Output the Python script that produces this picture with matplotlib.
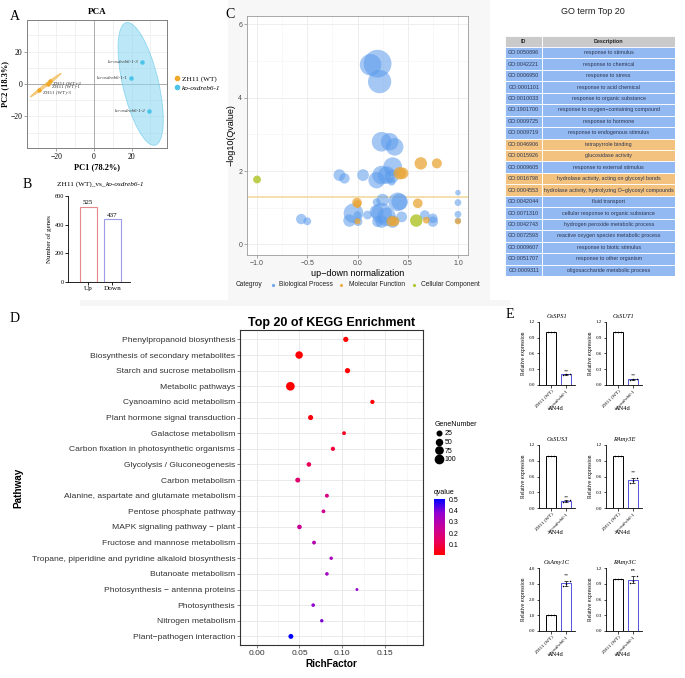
import numpy as np
import matplotlib
matplotlib.use("Agg")
import matplotlib.pyplot as plt
from matplotlib.patches import Ellipse, Rectangle
from matplotlib.lines import Line2D
from matplotlib.colors import LinearSegmentedColormap, Normalize
from matplotlib.cm import ScalarMappable

W, H = 685, 678
SERIF = "Liberation Serif"
SANS = "Liberation Sans"

# ---------------- data ----------------
pca_groups = ["ZH11 (WT)", "ko-osdreb6-1"]
pca_wt_labels = ["ZH11 (WT)-2", "ZH11 (WT)-1", "ZH11 (WT)-3"]
pca_wt_pc1 = [-23.5, -24.4, -29.2]
pca_wt_pc2 = [1.6, 0.0, -3.7]
pca_ko_labels = ["ko-osdreb6-1-3", "ko-osdreb6-1-1", "ko-osdreb6-1-2"]
pca_ko_pc1 = [25.4, 19.7, 29.5]
pca_ko_pc2 = [13.5, 3.5, -16.8]

deg_cats = ["Up", "Down"]
deg_counts = [525, 437]

go_bp_x = [0.13, 0.20, 0.22, 0.24, 0.32, 0.37, 0.35, -0.18, -0.13, 0.055, 0.19, 0.24, 0.29, 0.34, 0.34,
           0.25, 0.19, 0.40, 0.42, 1.0, 1.0, 1.0, 1.0, -0.56, -0.50, -0.04, -0.08, 0.0, 0.10, 0.19,
           0.24, 0.29, 0.24, 0.20, 0.35, 0.44, 0.67, 0.75, 0.75, 0.005]
go_bp_y = [4.90, 4.93, 4.44, 2.80, 2.80, 2.66, 2.12, 1.89, 1.80, 1.89, 1.75, 1.89, 1.89, 1.85, 1.71,
           1.21, 1.15, 1.16, 1.16, 1.41, 1.14, 0.82, 0.65, 0.69, 0.63, 0.85, 0.65, 0.80, 0.80, 0.89,
           0.85, 0.75, 0.62, 0.62, 0.62, 0.75, 0.80, 0.71, 0.62, 0.62]
go_bp_n = [60, 100, 70, 50, 40, 40, 45, 18, 14, 18, 35, 45, 40, 25, 8,
           20, 8, 45, 35, 4, 6, 6, 5, 14, 8, 50, 20, 8, 10, 25,
           55, 45, 20, 15, 20, 15, 12, 12, 14, 10]
go_mf_x = [0.63, 0.79, 0.42, 0.45, -0.005, 0.0, 0.60, 0.34, 0.37, 0.0, 0.685, 1.0]
go_mf_y = [2.21, 2.21, 1.94, 1.94, 1.14, 1.10, 1.12, 0.63, 0.63, 0.63, 0.66, 0.63]
go_mf_n = [20, 13, 20, 17, 12, 8, 12, 14, 12, 5, 6, 5]
go_cc_x = [-1.0, 0.585]
go_cc_y = [1.77, 0.65]
go_cc_n = [8, 20]

go_ids = ["GO:0050896", "GO:0042221", "GO:0006950", "GO:0001101", "GO:0010033", "GO:1901700",
          "GO:0009725", "GO:0009719", "GO:0046906", "GO:0015926", "GO:0009605", "GO:0016798",
          "GO:0004553", "GO:0042044", "GO:0071310", "GO:0042743", "GO:0072593", "GO:0009607",
          "GO:0051707", "GO:0009311"]
go_desc = ["response to stimulus", "response to chemical", "response to stress",
           "response to acid chemical", "response to organic substance",
           "response to oxygen\u2212containing compound", "response to hormone",
           "response to endogenous stimulus", "tetrapyrrole binding", "glucosidase activity",
           "response to external stimulus", "hydrolase activity, acting on glycosyl bonds",
           "hydrolase activity, hydrolyzing O\u2212glycosyl compounds", "fluid transport",
           "cellular response to organic substance", "hydrogen peroxide metabolic process",
           "reactive oxygen species metabolic process", "response to biotic stimulus",
           "response to other organism", "oligosaccharide metabolic process"]
go_type = ["BP"] * 8 + ["MF", "MF", "BP", "MF", "MF"] + ["BP"] * 7

kegg_pathways = ["Phenylpropanoid biosynthesis", "Biosynthesis of secondary metabolites",
                 "Starch and sucrose metabolism", "Metabolic pathways",
                 "Cyanoamino acid metabolism", "Plant hormone signal transduction",
                 "Galactose metabolism", "Carbon fixation in photosynthetic organisms",
                 "Glycolysis / Gluconeogenesis", "Carbon metabolism",
                 "Alanine, aspartate and glutamate metabolism", "Pentose phosphate pathway",
                 "MAPK signaling pathway \u2212 plant", "Fructose and mannose metabolism",
                 "Tropane, piperidine and pyridine alkaloid biosynthesis", "Butanoate metabolism",
                 "Photosynthesis \u2212 antenna proteins", "Photosynthesis", "Nitrogen metabolism",
                 "Plant\u2212pathogen interaction"]
kegg_rich = [0.104, 0.0496, 0.106, 0.0394, 0.135, 0.063, 0.102, 0.089, 0.061, 0.048,
             0.082, 0.078, 0.050, 0.067, 0.087, 0.082, 0.117, 0.066, 0.076, 0.040]
kegg_genes = [35, 80, 35, 110, 20, 33, 15, 20, 25, 30, 16, 14, 25, 15, 10, 12, 5, 12, 10, 30]
kegg_q = [0.003, 0.003, 0.004, 0.003, 0.01, 0.02, 0.05, 0.08, 0.12, 0.16,
          0.20, 0.22, 0.24, 0.30, 0.33, 0.35, 0.38, 0.38, 0.40, 0.505]

qpcr_genes = ["OsSPS1", "OsSUT1", "OsSUS3", "RAmy3E", "OsAmy1C", "RAmy3C"]
qpcr_groups = ["ZH11 (WT)", "ko-osdreb6-1"]
qpcr_wt = [[1.0, 1.0, 1.0]] * 6
qpcr_ko = [[0.19, 0.20, 0.21], [0.10, 0.11, 0.12], [0.12, 0.13, 0.15],
           [0.48, 0.52, 0.58], [2.85, 3.0, 3.2], [0.92, 0.95, 1.05]]
qpcr_sig = ["**", "**", "**", "**", "**", "ns"]
qpcr_ymax = [1.2, 1.2, 1.2, 1.2, 4.0, 1.2]
qpcr_step = [0.3, 0.3, 0.3, 0.3, 1.0, 0.3]
qpcr_cond = "AN4d"

# ---------------- figure ----------------
fig = plt.figure(figsize=(W / 100, H / 100), dpi=100)
fig.patch.set_facecolor("white")


def ax_px(x0, y0, x1, y1, **kw):
    return fig.add_axes([x0 / W, 1 - y1 / H, (x1 - x0) / W, (y1 - y0) / H], **kw)


def ftext(x, y, s, **kw):
    return fig.text(x / W, 1 - y / H, s, **kw)


# background tints
bg = Rectangle((228 / W, 1 - 300 / H), 262 / W, 300 / H, transform=fig.transFigure,
               facecolor="#F7F7F7", edgecolor="none", zorder=-10)
fig.add_artist(bg)

# ---------------- Panel A : PCA ----------------
axA = ax_px(27, 20, 167, 148)
axA.set_xlim(-35.7, 38.9)
axA.set_ylim(-39.4, 39.4)
axA.set_xticks([-20, 0, 20])
axA.set_yticks([-20, 0, 20])
axA.set_xticks([-30, -10, 10, 30], minor=True)
axA.set_yticks([-30, -10, 10, 30], minor=True)
axA.grid(True, which="both", color="#EBEBEB", lw=0.5)
axA.set_axisbelow(True)
axA.axvline(0, color="#A0A0A0", lw=0.6, zorder=1)
axA.axhline(0, color="#A0A0A0", lw=0.6, zorder=1)
for s in axA.spines.values():
    s.set_color("#808080")
    s.set_linewidth(0.7)
axA.tick_params(which="both", length=2, width=0.5, color="#808080", labelsize=5.5, pad=1.5)
axA.tick_params(which="minor", length=0)
for lab in axA.get_xticklabels() + axA.get_yticklabels():
    lab.set_fontfamily(SERIF)

col_wt, col_ko = "#F0A828", "#4CC4EA"


def conf_ellipse(xs, ys, k, **kw):
    xs, ys = np.asarray(xs), np.asarray(ys)
    cov = np.cov(xs, ys)
    vals, vecs = np.linalg.eigh(cov)
    order = vals.argsort()[::-1]
    vals, vecs = vals[order], vecs[:, order]
    ang = np.degrees(np.arctan2(vecs[1, 0], vecs[0, 0]))
    w, h = 2 * k * np.sqrt(np.maximum(vals, 0.08))
    return Ellipse((xs.mean(), ys.mean()), w, h, angle=ang, **kw)


axA.add_patch(conf_ellipse(pca_wt_pc1, pca_wt_pc2, 2.7, facecolor=col_wt, alpha=0.55,
                           edgecolor=col_wt, lw=0.5, zorder=2))
axA.add_patch(conf_ellipse(pca_ko_pc1, pca_ko_pc2, 2.45, facecolor="#8ED8F0", alpha=0.6,
                           edgecolor="#5FC6EA", lw=0.6, zorder=2))
axA.scatter(pca_wt_pc1, pca_wt_pc2, s=5, color=col_wt, zorder=3)
axA.scatter(pca_ko_pc1, pca_ko_pc2, s=5, color=col_ko, zorder=3)
for x, y, t in zip(pca_wt_pc1, pca_wt_pc2, pca_wt_labels):
    axA.annotate(t, (x, y), xytext=(2.5, -1.2), textcoords="offset points", fontsize=3.6,
                 fontfamily=SERIF, va="center", ha="left", color="#333333")
for x, y, t in zip(pca_ko_pc1, pca_ko_pc2, pca_ko_labels):
    axA.annotate(t, (x, y), xytext=(-2.5, 0), textcoords="offset points", fontsize=3.6,
                 fontfamily=SERIF, style="italic", va="center", ha="right", color="#333333")
axA.set_title("PCA", fontsize=6.5, fontweight="bold", fontfamily=SERIF, pad=4)
axA.set_xlabel("PC1 (78.2%)", fontsize=6, fontweight="bold", fontfamily=SERIF, labelpad=2)
axA.set_ylabel("PC2 (18.3%)", fontsize=6, fontweight="bold", fontfamily=SERIF, labelpad=1)

hA = [Line2D([], [], marker="o", ls="", color=col_wt, markersize=3),
      Line2D([], [], marker="o", ls="", color=col_ko, markersize=3)]
legA = fig.legend(hA, pca_groups, loc="center left", bbox_to_anchor=(170 / W, 1 - 83 / H),
                  frameon=False, prop={"family": SERIF, "size": 5.2}, handletextpad=0.2,
                  labelspacing=0.4, borderpad=0, handlelength=1)
legA.get_texts()[1].set_style("italic")
ftext(10, 17, "A", fontsize=10, fontfamily=SERIF, va="center", ha="left")

# ---------------- Panel B : DEG counts ----------------
axB = ax_px(68, 196, 130, 282)
xb = np.arange(len(deg_cats))
axB.bar(xb, deg_counts, width=0.7, facecolor="white", edgecolor=["#E8888C", "#9C9CEA"], lw=0.8)
axB.set_xlim(-0.84, 1.73)
axB.set_ylim(0, 600)
axB.set_yticks([0, 200, 400, 600])
axB.set_xticks(xb)
axB.set_xticklabels(deg_cats)
for s in ["top", "right"]:
    axB.spines[s].set_visible(False)
for s in ["left", "bottom"]:
    axB.spines[s].set_linewidth(0.6)
axB.tick_params(length=2, width=0.6, labelsize=4.5, pad=1)
for lab in axB.get_xticklabels() + axB.get_yticklabels():
    lab.set_fontfamily(SERIF)
for lab in axB.get_xticklabels():
    lab.set_fontsize(5.2)
for xi, v in zip(xb, deg_counts):
    axB.annotate(str(v), (xi, v), xytext=(0, 1), textcoords="offset points", ha="center",
                 va="bottom", fontsize=5, fontfamily=SERIF)
axB.set_ylabel("Number of genes", fontsize=5, fontfamily=SERIF, labelpad=2)
tB = ftext(57, 184, "ZH11 (WT)_vs_", fontsize=5.2, fontfamily=SERIF, va="center", ha="left")
tB2 = ftext(100, 184, "ko-osdreb6-1", fontsize=5.2, fontfamily=SERIF, style="italic",
            va="center", ha="left")
fig.canvas.draw()
bb = tB.get_window_extent()
tB2.set_position((bb.x1 / W, 1 - 184 / H))
ftext(23, 184, "B", fontsize=10, fontfamily=SERIF, va="center", ha="left")

# ---------------- Panel C : GO bubble ----------------
axC = ax_px(247, 16, 468, 255)
axC.set_facecolor("white")
axC.set_xlim(-1.10, 1.10)
axC.set_ylim(-0.29, 6.23)
axC.set_xticks([-1.0, -0.5, 0.0, 0.5, 1.0])
axC.set_xticks([-0.75, -0.25, 0.25, 0.75], minor=True)
axC.set_yticks([0, 2, 4, 6])
axC.set_yticks([1, 3, 5], minor=True)
axC.grid(True, which="major", color="#EBEBEB", lw=0.6)
axC.grid(True, which="minor", color="#F4F4F4", lw=0.4)
axC.set_axisbelow(True)
for s in axC.spines.values():
    s.set_color("#9A9A9A")
    s.set_linewidth(0.6)
axC.tick_params(which="major", length=2, width=0.5, color="#888888", labelsize=5,
                labelcolor="#4D4D4D", pad=1.5)
axC.tick_params(which="minor", length=0)
for lab in axC.get_xticklabels() + axC.get_yticklabels():
    lab.set_fontfamily(SANS)
axC.axhline(-np.log10(0.05), color="#F2D9A2", lw=1.2, zorder=1)
c_bp, c_mf, c_cc = "#5A9AEC", "#E9A536", "#A8BE14"
sz = 4.0
axC.scatter(go_bp_x, go_bp_y, s=np.array(go_bp_n) * sz, color=c_bp, alpha=0.55, lw=0, zorder=2)
axC.scatter(go_mf_x, go_mf_y, s=np.array(go_mf_n) * sz, color=c_mf, alpha=0.75, lw=0, zorder=3)
axC.scatter(go_cc_x, go_cc_y, s=np.array(go_cc_n) * sz, color=c_cc, alpha=0.75, lw=0, zorder=4)
axC.set_xlabel("up\u2212down normalization", fontsize=6.5, fontfamily=SANS, labelpad=1.5)
axC.set_ylabel("\u2212log10(Qvalue)", fontsize=6.5, fontfamily=SANS, labelpad=2)
# bottom legend
ftext(236, 285, "Categroy", fontsize=4.8, fontfamily=SANS, va="center", ha="left", color="#222222")
for xd, xt, c, t in [(272.7, 279, c_bp, "Biological Process"), (341, 349, c_mf, "Molecular Function"),
                     (414, 420.7, c_cc, "Cellular Component")]:
    fig.add_artist(Line2D([xd / W], [1 - 285 / H], marker="o", ls="", markersize=1.3,
                          color=c, alpha=0.8, transform=fig.transFigure))
    ftext(xt, 285, t, fontsize=4.8, fontfamily=SANS, va="center", ha="left", color="#222222")
ftext(225, 15, "C", fontsize=10, fontfamily=SERIF, va="center", ha="left")

# ---------------- GO table ----------------
ftext(593, 12, "GO term Top 20", fontsize=6.5, fontfamily=SANS, va="center", ha="center",
      color="#222222")
axT = ax_px(505, 35.5, 675, 276)
axT.set_xlim(0, 1)
axT.set_ylim(len(go_ids) + 1, 0)
axT.axis("off")
idw = 0.22
colmap = {"BP": "#93B9F2", "MF": "#F3C27E"}
axT.add_patch(Rectangle((0, 0), idw, 1, facecolor="#CACACA", edgecolor="white", lw=0.6))
axT.add_patch(Rectangle((idw, 0), 1 - idw, 1, facecolor="#CACACA", edgecolor="white", lw=0.6))
axT.text(idw / 2, 0.5, "ID", fontsize=3.9, fontweight="bold", ha="center", va="center",
         fontfamily=SANS, color="#222222")
axT.text((1 + idw) / 2, 0.5, "Description", fontsize=3.9, fontweight="bold", ha="center",
         va="center", fontfamily=SANS, color="#222222")
for i, (gid, d, t) in enumerate(zip(go_ids, go_desc, go_type)):
    r = i + 1
    c = colmap[t]
    axT.add_patch(Rectangle((0, r), idw, 1, facecolor=c, edgecolor="white", lw=0.6))
    axT.add_patch(Rectangle((idw, r), 1 - idw, 1, facecolor=c, edgecolor="white", lw=0.6))
    axT.text(idw / 2, r + 0.5, gid, fontsize=3.9, ha="center", va="center", fontfamily=SANS,
             color="#2A3550")
    axT.text((1 + idw) / 2, r + 0.5, d, fontsize=3.9, ha="center", va="center", fontfamily=SANS,
             color="#2A3550")

# ---------------- Panel D : KEGG ----------------
band = Rectangle((80 / W, 1 - 306 / H), 430 / W, 6 / H, transform=fig.transFigure,
                 facecolor="#F6F6F6", edgecolor="none", zorder=-10)
fig.add_artist(band)
axD = ax_px(240, 330, 423, 645)
n = len(kegg_pathways)
yk = np.arange(n)
cmap = LinearSegmentedColormap.from_list(
    "rb", ["#FF0000", "#E8005E", "#C6009C", "#9400D0", "#0000FF"])
norm = Normalize(vmin=min(kegg_q), vmax=max(kegg_q))
size_fn = lambda g: 2.7 + 0.33 * np.asarray(g, dtype=float)
axD.scatter(kegg_rich, yk, s=size_fn(kegg_genes), c=kegg_q, cmap=cmap, norm=norm, lw=0,
            zorder=3)
axD.set_ylim(n - 1 + 0.55, -0.6)
axD.set_xlim(-0.0193, 0.194)
axD.set_yticks(yk)
axD.set_yticklabels(kegg_pathways)
axD.set_xticks([0.0, 0.05, 0.10, 0.15])
axD.set_xticklabels(["0.00", "0.05", "0.10", "0.15"])
axD.set_xticks([0.025, 0.075, 0.125, 0.175], minor=True)
axD.grid(True, which="major", color="#E6E6E6", lw=0.6)
axD.grid(True, which="minor", axis="x", color="#F2F2F2", lw=0.4)
axD.set_axisbelow(True)
for s in axD.spines.values():
    s.set_color("#333333")
    s.set_linewidth(0.8)
axD.tick_params(which="major", length=2, width=0.5, color="#555555", labelsize=6.1,
                labelcolor="#333333", pad=1.5)
axD.tick_params(which="minor", length=0)
for lab in axD.get_xticklabels() + axD.get_yticklabels():
    lab.set_fontfamily(SANS)
axD.set_title("Top 20 of KEGG Enrichment", fontsize=9, fontweight="bold", fontfamily=SANS,
              pad=3)
axD.set_xlabel("RichFactor", fontsize=7.2, fontweight="bold", fontfamily=SANS, labelpad=1.5)
axD.set_ylabel("Pathway", fontsize=7.2, fontweight="bold", fontfamily=SANS, labelpad=6)
leg_sizes = [25, 50, 75, 100]
hD = [Line2D([], [], marker="o", ls="", color="black", markersize=np.sqrt(size_fn(v)))
      for v in leg_sizes]
legD = fig.legend(hD, [str(v) for v in leg_sizes], title="GeneNumber", loc="upper left",
                  bbox_to_anchor=(431 / W, 1 - 418 / H), frameon=False,
                  prop={"family": SANS, "size": 5}, title_fontproperties={"family": SANS,
                                                                           "size": 5},
                  handletextpad=0.3, labelspacing=0.25, borderpad=0, handlelength=1.2)
legD._legend_box.align = "left"
cax = ax_px(434, 499, 445, 555)
cb = fig.colorbar(ScalarMappable(norm=norm, cmap=cmap), cax=cax)
cb.set_ticks([0.1, 0.2, 0.3, 0.4, 0.5])
cb.outline.set_visible(False)
cax.tick_params(length=1.5, width=0.4, color="white", labelsize=5, pad=1)
for lab in cax.get_yticklabels():
    lab.set_fontfamily(SANS)
ftext(434, 493, "qvalue", fontsize=5, fontfamily=SANS, va="center", ha="left")
ftext(10, 318, "D", fontsize=10, fontfamily=SERIF, va="center", ha="left")

# ---------------- Panel E : qPCR ----------------
ftext(506, 314, "E", fontsize=10, fontfamily=SERIF, va="center", ha="left")
rows = [(322, 385), (445, 508), (568, 631)]
cols = [539, 606]
for gi, gene in enumerate(qpcr_genes):
    r, c = divmod(gi, 2)
    y0, y1 = rows[r]
    x0 = cols[c]
    ax = ax_px(x0, y0, x0 + 36, y1)
    vals = [qpcr_wt[gi], qpcr_ko[gi]]
    means = [np.mean(v) for v in vals]
    sds = [np.std(v, ddof=1) for v in vals]
    xs = np.arange(2)
    ax.bar(xs, means, width=0.64, facecolor="white", edgecolor=["black", "#5252E0"], lw=0.7,
           zorder=2)
    ax.errorbar(xs, means, yerr=sds, fmt="none", ecolor="black", elinewidth=0.5, capsize=1.3,
                capthick=0.5, zorder=3)
    for xi, v in zip(xs, vals):
        ax.scatter(xi + np.array([-0.2, 0.0, 0.2]), v, s=1.2, color="black", zorder=4, lw=0)
    ytop = max(qpcr_ko[gi]) + sds[1]
    ax.annotate(qpcr_sig[gi], (1, ytop), xytext=(0, 0.2), textcoords="offset points",
                ha="center", va="bottom", fontsize=3.8, fontfamily=SERIF)
    ax.set_xlim(-0.76, 1.55)
    ax.set_ylim(0, qpcr_ymax[gi])
    ax.set_yticks(np.arange(0, qpcr_ymax[gi] + 1e-9, qpcr_step[gi]))
    ax.set_yticklabels([f"{t:.1f}" for t in ax.get_yticks()])
    ax.set_xticks(xs)
    ax.set_xticklabels(qpcr_groups, rotation=45, ha="right", rotation_mode="anchor")
    ax.get_xticklabels()[1].set_style("italic")
    for s in ["top", "right"]:
        ax.spines[s].set_visible(False)
    for s in ["left", "bottom"]:
        ax.spines[s].set_linewidth(0.6)
    ax.tick_params(length=1.8, width=0.5, labelsize=3.6, pad=1)
    for lab in ax.get_xticklabels() + ax.get_yticklabels():
        lab.set_fontfamily(SERIF)
    ax.set_title(gene, fontsize=4.6, style="italic", fontfamily=SERIF, pad=3)
    ax.set_ylabel("Relative expression", fontsize=4, fontfamily=SERIF, labelpad=2)
    ftext(x0 + 17, y1 + 24, qpcr_cond, fontsize=4.6, fontfamily=SERIF, ha="center",
          va="center")

fig.savefig("out.png", dpi=100)
